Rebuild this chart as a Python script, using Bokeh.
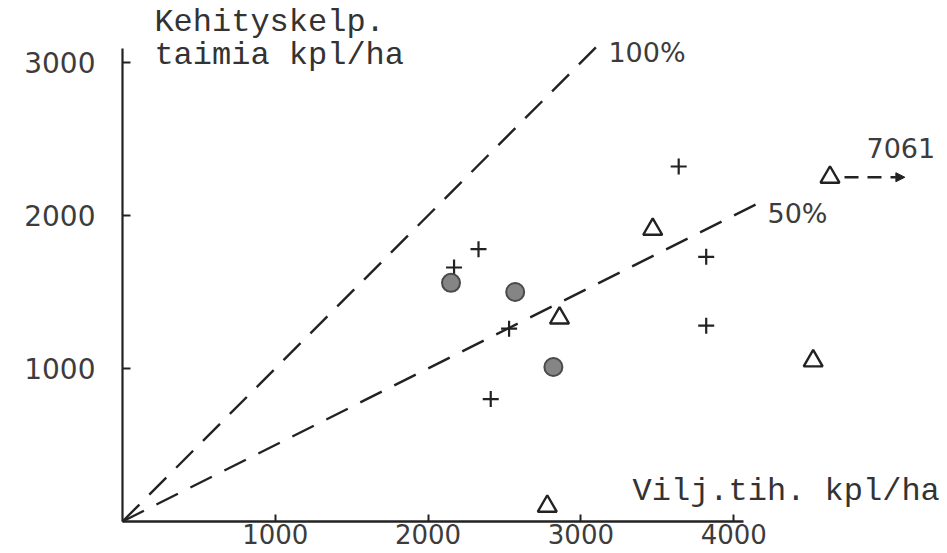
from bokeh.plotting import figure
from bokeh.models import (LinearAxis, FixedTicker, Range1d, Label, Arrow, NormalHead)
from bokeh.embed import file_html
from bokeh.resources import INLINE

# ---- data ----
x_ticks = [1000, 2000, 3000, 4000]
y_ticks = [1000, 2000, 3000]

plus_x = [2170, 2330, 2530, 2410, 3640, 3820, 3820]
plus_y = [1660, 1780, 1260, 800, 2320, 1730, 1280]

tri_x = [3470, 2860, 4520, 2780]
tri_y = [1910, 1330, 1050, 100]

# off-scale triangle, true x = 7061, drawn at the right edge with an arrow
out_x = [4630]
out_y = [2250]
out_label = "7061"

circ_x = [2150, 2570, 2820]
circ_y = [1560, 1500, 1010]

line100_x = [0, 3100]
line100_y = [0, 3100]
line50_x = [0, 4150]
line50_y = [0, 2075]

y_title = ["Kehityskelp.", "taimia kpl/ha"]
x_title = "Vilj.tih. kpl/ha"

INK = "#222222"
TYPE = "Liberation Mono"
NUMF = "DejaVu Sans"

p = figure(width=947, height=553, output_backend="svg", toolbar_location=None,
           x_axis_location=None, y_axis_location=None,
           x_range=Range1d(-798, 5399), y_range=Range1d(-209, 3405),
           min_border_left=0, min_border_right=0, min_border_top=0, min_border_bottom=0,
           background_fill_color="white", border_fill_color="white")
p.outline_line_color = None
p.grid.visible = False

xaxis = LinearAxis(fixed_location=0, ticker=FixedTicker(ticks=x_ticks),
                   bounds=(0, 4064), major_tick_in=7, major_tick_out=0,
                   minor_tick_in=0, minor_tick_out=0,
                   axis_line_width=2.5, axis_line_color=INK,
                   major_tick_line_width=2, major_tick_line_color=INK,
                   major_label_standoff=2,
                   major_label_text_font=NUMF, major_label_text_font_size="26px",
                   major_label_text_color="#3c3c3c")
yaxis = LinearAxis(fixed_location=0, ticker=FixedTicker(ticks=y_ticks),
                   bounds=(0, 3091), major_tick_in=8, major_tick_out=0,
                   minor_tick_in=0, minor_tick_out=0,
                   axis_line_width=2.2, axis_line_color=INK,
                   major_tick_line_width=2, major_tick_line_color=INK,
                   major_label_standoff=27,
                   major_label_text_font=NUMF, major_label_text_font_size="28px",
                   major_label_text_color="#3c3c3c")
p.add_layout(xaxis, "below")
p.add_layout(yaxis, "left")

# reference lines
p.line(line100_x, line100_y, line_dash="24 14", line_width=2.4, line_color=INK)
p.line(line50_x, line50_y, line_dash="24 14", line_width=2.4, line_color=INK)

# markers
p.scatter(plus_x, plus_y, marker="cross", size=16, line_width=2.2, line_color=INK)
p.scatter(tri_x + out_x, tri_y + out_y, marker="triangle", size=19,
          fill_color=None, line_width=2.4, line_color=INK)
p.scatter(circ_x, circ_y, marker="circle", size=18, fill_color="#858585",
          line_color="#4a4a4a", line_width=2)

# arrow for the off-scale point
p.add_layout(Arrow(end=NormalHead(size=9, fill_color=INK, line_color=INK),
                   x_start=out_x[0] + 95, y_start=out_y[0],
                   x_end=out_x[0] + 490, y_end=out_y[0],
                   line_dash="14 9", line_width=2.5, line_color=INK))
p.add_layout(Label(x=4869, y=2438, text=out_label, text_font=NUMF,
                   text_font_size="27px", text_color="#3c3c3c",
                   text_baseline="alphabetic"))

# percentage labels
p.add_layout(Label(x=3180, y=3065, text="100%", text_font=NUMF,
                   text_font_size="27px", text_color="#3c3c3c",
                   text_baseline="alphabetic"))
p.add_layout(Label(x=4221, y=2013, text="50%", text_font=NUMF,
                   text_font_size="27px", text_color="#3c3c3c",
                   text_baseline="alphabetic"))

# typewritten axis titles
p.add_layout(Label(x=209, y=3258, text=y_title[0], text_font=TYPE,
                   text_font_size="32px", text_color="#333333",
                   text_baseline="alphabetic"))
p.add_layout(Label(x=209, y=3043, text=y_title[1], text_font=TYPE,
                   text_font_size="32px", text_color="#333333",
                   text_baseline="alphabetic"))
p.add_layout(Label(x=3338, y=197, text=x_title, text_font=TYPE,
                   text_font_size="32px", text_color="#333333",
                   text_baseline="alphabetic"))

open("out.html", "w").write(file_html(p, INLINE))
